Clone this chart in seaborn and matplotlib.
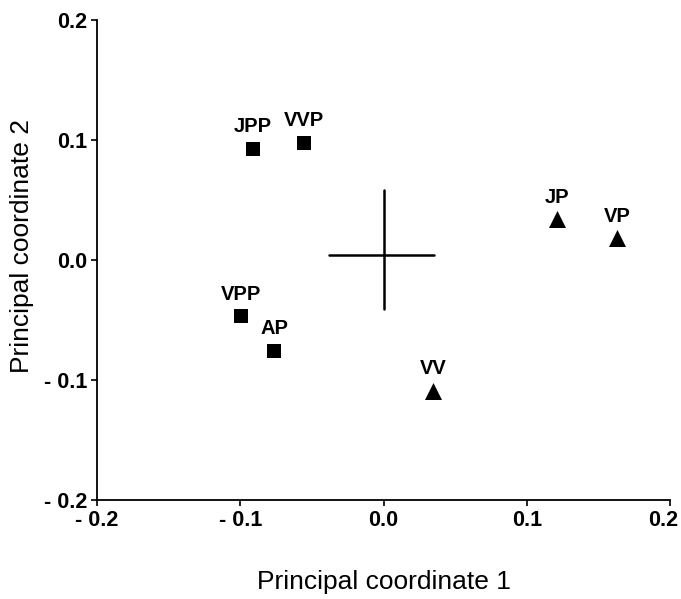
import matplotlib
matplotlib.use("Agg")
import matplotlib.pyplot as plt
import matplotlib.transforms as mtransforms
import seaborn as sns
import pandas as pd

names = ["JPP", "VVP", "VPP", "AP", "JP", "VP", "VV"]
pc1 = [-0.091, -0.0555, -0.0995, -0.0764, 0.121, 0.163, 0.0346]
pc2 = [0.0925, 0.0975, -0.0467, -0.0758, 0.034, 0.018, -0.109]
group = ["sq", "sq", "sq", "sq", "tri", "tri", "tri"]

centroid_x = [0.0]
centroid_y = [0.004]
err_x = [-0.038, 0.035]
err_y = [-0.041, 0.058]

ticks = [-0.2, -0.1, 0.0, 0.1, 0.2]
tick_labels = ["- 0.2", "- 0.1", "0.0", "0.1", "0.2"]

df = pd.DataFrame({"name": names, "pc1": pc1, "pc2": pc2, "group": group})

sns.set_style("ticks")
plt.rcParams["font.family"] = ["Liberation Sans", "DejaVu Sans"]
plt.rcParams["text.color"] = "black"
plt.rcParams["axes.labelcolor"] = "black"

fig = plt.figure(figsize=(6.81, 5.99), dpi=100)
ax = fig.add_axes([97/681, 1 - 500/599, (670 - 97)/681, (500 - 20)/599])

sns.scatterplot(data=df[df.group == "sq"], x="pc1", y="pc2", marker="s", s=110,
                color="black", edgecolor="black", linewidth=0, ax=ax, legend=False)
sns.scatterplot(data=df[df.group == "tri"], x="pc1", y="pc2", marker="^", s=150,
                color="black", edgecolor="black", linewidth=0, ax=ax, legend=False)

for n, x, y in zip(names, pc1, pc2):
    ax.annotate(n, (x, y), xytext=(0, 9), textcoords="offset points",
                ha="center", va="bottom", fontsize=14.5, fontweight="bold",
                color="black")

ax.plot(err_x, [centroid_y[0]] * 2, color="black", lw=1.8)
ax.plot([centroid_x[0]] * 2, err_y, color="black", lw=1.8)

ax.set_xlim(-0.2, 0.2)
ax.set_ylim(-0.2, 0.2)
ax.set_xticks(ticks)
ax.set_xticklabels(tick_labels)
ax.set_yticks(ticks)
ax.set_yticklabels(tick_labels)
ax.tick_params(labelsize=15.5, length=4, width=1.2, colors="black", pad=3)
for lab in ax.get_xticklabels() + ax.get_yticklabels():
    lab.set_fontweight("bold")
last = ax.get_xticklabels()[-1]
last.set_transform(last.get_transform() +
                   mtransforms.ScaledTranslation(-7/100, 0, fig.dpi_scale_trans))
sns.despine(ax=ax)
for sp in ["left", "bottom"]:
    ax.spines[sp].set_linewidth(1.3)
    ax.spines[sp].set_color("black")

ax.set_xlabel("Principal coordinate 1", fontsize=19, color="black")
ax.set_ylabel("Principal coordinate 2", fontsize=19, color="black")
ax.xaxis.set_label_coords(0.5, -0.145)
ax.yaxis.set_label_coords(-0.11, 0.53)

fig.savefig("out.png", dpi=100)
